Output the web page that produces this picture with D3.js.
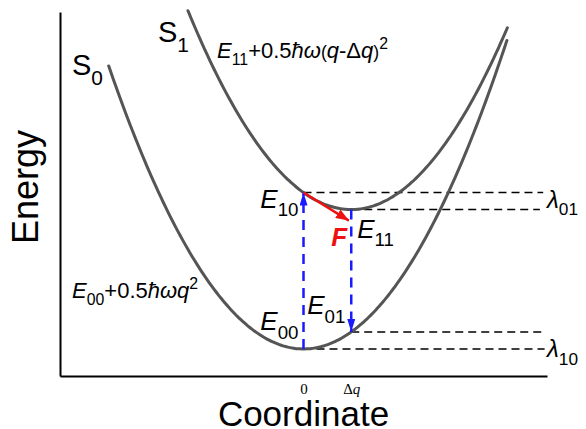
<!DOCTYPE html>
<html>
<head>
<meta charset="utf-8">
<script src="https://cdn.jsdelivr.net/npm/d3@7"></script>
<style>
  body { margin: 0; background: #fff; }
  svg { display: block; font-family: "Liberation Sans", Arial, sans-serif; }
</style>
</head>
<body>
<svg id="chart"></svg>
<script>
// potential energy surfaces (harmonic, same frequency), Δq = 1
const curveNames = ['S0', 'S1']
const curveQmin = [0, 1]
const curveEmin = [0, 8.2]
const curveFrom = [-4.08, -2.42]
const curveTo = [4.26, 4.27]

// dashed energy levels
const levelNames = ['E10', 'E11', 'E01', 'E00']
const levelE = [9.2, 8.2, 1, 0]
const levelFrom = [0, 1, 1, 0]
const levelTo = [5.02, 4.95, 4.99, 5.05]

// vertical transitions (blue) and relaxation force (red)
const transFrom = [[0, 0], [1, 8.2]]
const transTo = [[0, 9.2], [1, 1]]
const forceFrom = [0, 9.2]
const forceTo = [0.95, 7.55]

const xTickValues = [0, 1]
const xTickLabels = ['0', 'Δq']

const width = 586, height = 429
const svg = d3.select('#chart').attr('width', width).attr('height', height)

const x = d3.scaleLinear().domain([-5.1, 5.1]).range([60, 547])
const y = d3.scaleLinear().domain([-1.59, 19.82]).range([376, 12])

// axes: plain lines, no ticks on y
const xAxis = svg.append('g')
  .attr('transform', `translate(0,${y.range()[0]})`)
  .call(d3.axisBottom(x).tickValues(xTickValues).tickSize(0).tickPadding(7)
    .tickFormat((d, i) => xTickLabels[i]))
xAxis.select('.domain').attr('stroke', '#000').attr('stroke-width', 2)
xAxis.selectAll('text')
  .attr('font-family', '"Liberation Serif", "Times New Roman", serif')
  .attr('font-size', 15).attr('fill', '#000')
xAxis.selectAll('text').filter((d, i) => i === 1).each(function () {
  const t = d3.select(this).text('')
  t.append('tspan').text('Δ')
  t.append('tspan').attr('font-style', 'italic').text('q')
})

const yAxis = svg.append('g')
  .attr('transform', `translate(${x.range()[0]},0)`)
  .call(d3.axisLeft(y).tickValues([]).tickSizeOuter(0))
yAxis.select('.domain').attr('stroke', '#000').attr('stroke-width', 2)

// markers
const defs = svg.append('defs')
function marker(id, color, w, h) {
  defs.append('marker').attr('id', id)
    .attr('viewBox', `0 0 ${h} ${w}`)
    .attr('refX', h).attr('refY', w / 2)
    .attr('markerWidth', h).attr('markerHeight', w)
    .attr('markerUnits', 'userSpaceOnUse')
    .attr('orient', 'auto')
    .append('path').attr('d', `M0,0L${h},${w / 2}L0,${w}Z`).attr('fill', color)
}
marker('blueHead', '#1a1aff', 8, 13)
marker('redHead', '#ee1111', 10, 13)

// dashed levels
svg.append('g').selectAll('line')
  .data(levelE)
  .join('line')
  .attr('x1', (d, i) => x(levelFrom[i]))
  .attr('x2', (d, i) => x(levelTo[i]))
  .attr('y1', d => y(d))
  .attr('y2', d => y(d))
  .attr('stroke', '#000')
  .attr('stroke-width', 1.5)
  .attr('stroke-dasharray', '8,5')

// parabolas
const line = d3.line().x(d => x(d[0])).y(d => y(d[1])).curve(d3.curveBasis)
svg.append('g').selectAll('path')
  .data(curveNames)
  .join('path')
  .attr('d', (d, i) => {
    const pts = d3.range(curveFrom[i], curveTo[i], 0.05).concat([curveTo[i]])
      .map(q => [q, curveEmin[i] + (q - curveQmin[i]) ** 2])
    return line(pts)
  })
  .attr('fill', 'none')
  .attr('stroke', '#555')
  .attr('stroke-width', 3)
  .attr('stroke-linecap', 'round')

// transitions
svg.append('g').selectAll('line')
  .data(transFrom)
  .join('line')
  .attr('x1', d => x(d[0]))
  .attr('y1', d => y(d[1]))
  .attr('x2', (d, i) => x(transTo[i][0]))
  .attr('y2', (d, i) => y(transTo[i][1]))
  .attr('stroke', '#1a1aff')
  .attr('stroke-width', 2.5)
  .attr('stroke-dasharray', '10,7')
  .attr('marker-end', 'url(#blueHead)')

svg.append('line')
  .attr('x1', x(forceFrom[0])).attr('y1', y(forceFrom[1]))
  .attr('x2', x(forceTo[0])).attr('y2', y(forceTo[1]))
  .attr('stroke', '#ee1111')
  .attr('stroke-width', 2.5)
  .attr('marker-end', 'url(#redHead)')

// rich text helper: parts like 'E|i', '10|sub', '2|sup'
function label(px, py, parts, size, anchor, color) {
  const t = svg.append('text')
    .attr('x', px).attr('y', py)
    .attr('font-size', size)
    .attr('text-anchor', anchor || 'start')
    .attr('fill', color || '#000')
  let shift = 0
  parts.forEach(p => {
    const [s, kind = ''] = p.split('|')
    let target = 0, fs = size
    if (kind.includes('sub')) { target = size * 0.33; fs = size * 0.72 }
    if (kind.includes('sup')) { target = -size * 0.4; fs = size * 0.72 }
    if (kind.includes('small')) { fs = size * 0.8 }
    const ts = t.append('tspan').attr('dy', target - shift).attr('font-size', fs).text(s)
    if (kind.includes('i')) ts.attr('font-style', 'italic')
    shift = target
  })
  return t
}

label(72, 75, ['S', '0|sub'], 29)
label(158, 42, ['S', '1|sub'], 29)

label(x(0) - 5, y(9.2) + 15, ['E|i', '10|sub'], 26, 'end')
label(x(0) - 5, y(0) - 19, ['E|i', '00|sub'], 26, 'end')
label(x(1) + 6, y(8.2) + 28, ['E|i', '11|sub'], 26)
label(x(1) - 44, y(1) - 18, ['E|i', '01|sub'], 26)
label(x(1) - 20, y(8.2) + 36, ['F|i'], 26, 'start', '#ee1111').attr('font-weight', 'bold')

label(547, y(9.2) + 15, ['λ|i', '01|sub'], 24)
label(547, y(0) + 8, ['λ|i', '10|sub'], 24)

label(72, 298, ['E|i', '00|sub', '+0.5', 'ħω|i', 'q|i', '2|sup'], 22)
label(217, 58, ['E|i', '11|sub', '+0.5', 'ħω|i', '(|small', 'q|i', '-Δ', 'q|i', ')|small', '2|sup'], 22)

svg.append('text')
  .attr('transform', `translate(38,${(y.range()[0] + y.range()[1]) / 2 - 7}) rotate(-90)`)
  .attr('text-anchor', 'middle')
  .attr('font-size', 36)
  .text('Energy')

svg.append('text')
  .attr('x', (x.range()[0] + x.range()[1]) / 2)
  .attr('y', 426)
  .attr('text-anchor', 'middle')
  .attr('font-size', 35)
  .text('Coordinate')
</script>
</body>
</html>
